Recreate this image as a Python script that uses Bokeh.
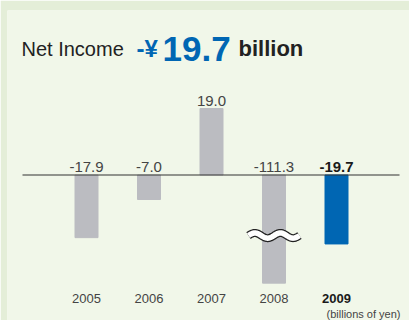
import numpy as np
from bokeh.plotting import figure
from bokeh.models import Range1d, Label, ColumnDataSource
from bokeh.core.properties import value
from bokeh.embed import file_html
from bokeh.resources import INLINE

# ---- data ----
years = ["2005", "2006", "2007", "2008", "2009"]
net_income = [-17.9, -7.0, 19.0, -111.3, -19.7]
value_labels = ["-17.9", "-7.0", "19.0", "-111.3", "-19.7"]
highlight = [False, False, False, False, True]
axis_floor = -30.9          # where the broken 2008 bar is cut
break_value = -17.3         # where the break mark sits

FONT = "Liberation Sans"
GRAY_BAR = "#bbbcc1"
BLUE = "#0066b3"
INNER_BG = "#f1f7e9"
OUTER_BG = "#e4eed8"
TXT = "#444444"

W, H = 409, 320
LEFT, TOP = 7, 10
# pixel helpers for layout (frame: x 7..409, y 10..320)
X0_PX, DX_PX = 86.0, 62.5      # first category centre, category spacing
Y0_PX, DY_PX = 174.5, 3.5      # zero line, px per billion yen

def px2x(px):
    return (px - X0_PX) / DX_PX

def px2y(py):
    return (Y0_PX - py) / DY_PX

p = figure(width=W, height=H, output_backend="svg", toolbar_location=None,
           x_range=Range1d(px2x(LEFT), px2x(W)), y_range=Range1d(px2y(H), px2y(TOP)),
           min_border_left=LEFT, min_border_top=TOP, min_border_right=0, min_border_bottom=0)
p.xaxis.visible = False
p.yaxis.visible = False
p.grid.visible = False
p.outline_line_color = None
p.background_fill_color = INNER_BG
p.border_fill_color = OUTER_BG

idx = list(range(len(years)))
shown = [max(v, axis_floor) for v in net_income]
src = ColumnDataSource(dict(
    x=idx, top=[max(v, 0) for v in shown], bottom=[min(v, 0) for v in shown],
    color=[BLUE if h else GRAY_BAR for h in highlight],
    label=value_labels,
    label_y=[max(v, 0) for v in net_income],
    label_color=["#1a1a1a" if h else TXT for h in highlight],
    label_style=["bold" if h else "normal" for h in highlight],
    year=years,
    year_color=["#1a1a1a" if h else TXT for h in highlight],
    year_y=[px2y(298)] * len(years),
))

p.vbar(x="x", top="top", bottom="bottom", width=23 / DX_PX, color="color", source=src)

# zero line
p.line([px2x(22), px2x(399)], [0, 0], line_color="#333333", line_width=1.2)

# value labels
p.text(x="x", y="label_y", text="label", source=src, text_align="center",
       text_baseline="alphabetic", y_offset=-8, text_font=value(FONT),
       text_font_size="15px", text_color="label_color", text_font_style="label_style")

# year labels
p.text(x="x", y="year_y", text="year", source=src, text_align="center",
       text_baseline="alphabetic", text_font=value(FONT),
       text_font_size="13px", text_color="year_color", text_font_style="label_style")

# break mark on 2008 bar
bi = net_income.index(min(net_income))
wx = np.linspace(bi - 25.5 / DX_PX, bi + 25.5 / DX_PX, 80)
wy = break_value + (2.6 / DY_PX) * np.sin((wx - wx[0]) / (wx[-1] - wx[0]) * 4 * np.pi)
p.line(wx, wy, line_color="#222222", line_width=8)
p.line(wx, wy, line_color="#ffffff", line_width=5.5)

# unit note
p.add_layout(Label(x=px2x(400), y=px2y(313.5), text="(billions of yen)", text_align="right",
                   text_baseline="alphabetic", text_font=FONT, text_font_size="11px",
                   text_color=TXT))

# title
p.add_layout(Label(x=px2x(21), y=px2y(48), text="Net Income", text_font=FONT,
                   text_font_size="20px", text_color="#222222", text_baseline="alphabetic"))
p.add_layout(Label(x=px2x(136), y=px2y(48), text="-\u00a5", text_font=FONT,
                   text_font_size="24px", text_font_style="bold", text_color=BLUE,
                   text_baseline="alphabetic"))
p.add_layout(Label(x=px2x(162), y=px2y(48), text="19.7", text_font=FONT,
                   text_font_size="35px", text_font_style="bold", text_color=BLUE,
                   text_baseline="alphabetic"))
p.add_layout(Label(x=px2x(238), y=px2y(48), text="billion", text_font=FONT,
                   text_font_size="22px", text_font_style="bold", text_color="#222222",
                   text_baseline="alphabetic"))

open("out.html", "w").write(file_html(p, INLINE))
